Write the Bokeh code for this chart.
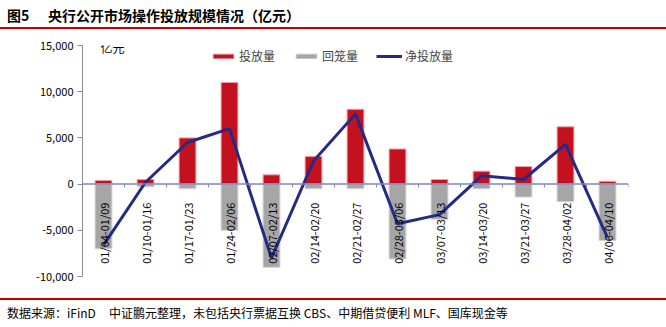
import numpy as np
from bokeh.plotting import figure
from bokeh.layouts import column
from bokeh.models import Range1d, Label, Legend, LegendItem, Span, NumeralTickFormatter, FixedTicker, Div
from bokeh.core.properties import value
from bokeh.embed import file_html
from bokeh.resources import INLINE

categories = ["01/04-01/09", "01/10-01/16", "01/17-01/23", "01/24-02/06", "02/07-02/13",
              "02/14-02/20", "02/21-02/27", "02/28-03/06", "03/07-03/13", "03/14-03/20",
              "03/21-03/27", "03/28-04/02", "04/06-04/10"]
injection = [400, 500, 5000, 11000, 1000, 3000, 8100, 3800, 500, 1400, 1900, 6200, 300]
withdrawal = [-7000, -300, -500, -5000, -9000, -500, -500, -8100, -3800, -500, -1400, -1900, -6100]
net = [-6600, 200, 4500, 6000, -8000, 2500, 7600, -4300, -3300, 900, 500, 4300, -5800]
y_ticks = [-10000, -5000, 0, 5000, 10000, 15000]

FIG_NO = "图5"
TITLE = "央行公开市场操作投放规模情况（亿元）"
SRC_A = "数据来源：iFinD"
SRC_B = "中证鹏元整理，未包括央行票据互换 CBS、中期借贷便利 MLF、国库现金等"
CJK = "Noto Sans CJK SC"
RED = "#C3111F"
GRAY = "#A6A6A6"
BLUE = "#252A84"
DARKRED = "#C00000"

W = 666
n = len(categories)
xs = np.arange(n) + 0.5

# ---- title strip (HTML)
title_html = (
    f'<div style="position:relative;width:{W}px;height:30px;font-family:\'{CJK}\';color:black;">'
    f'<span style="position:absolute;left:7px;top:7px;font-size:14px;line-height:16px;font-weight:bold;white-space:nowrap;">{FIG_NO}</span>'
    f'<span style="position:absolute;left:48px;top:7px;font-size:14px;line-height:16px;font-weight:bold;white-space:nowrap;">{TITLE}</span>'
    f'<div style="position:absolute;left:0;top:27px;width:{W}px;height:2px;background:{DARKRED};"></div>'
    '</div>'
)
t = Div(text=title_html, width=W, height=30, margin=0)

# ---- main chart
p = figure(width=W, height=268, x_range=Range1d(0, n), y_range=Range1d(-10000, 15000),
           output_backend="svg", toolbar_location=None,
           min_border_left=82, min_border_right=38, min_border_top=15, min_border_bottom=22,
           x_axis_location=None, outline_line_color=None, margin=0)
p.xgrid.visible = False
p.ygrid.visible = False
p.yaxis.ticker = FixedTicker(ticks=y_ticks)
p.yaxis.formatter = NumeralTickFormatter(format="0,0")
p.yaxis.major_label_text_font = CJK
p.yaxis.major_label_text_font_size = "11px"
p.yaxis.major_label_text_color = "black"
p.yaxis.axis_line_color = "#8C8C8C"
p.yaxis.major_tick_line_color = "#8C8C8C"
p.yaxis.major_tick_out = 5
p.yaxis.major_tick_in = 0
p.yaxis.minor_tick_line_color = None
p.yaxis.major_label_standoff = 4

r_inj = p.vbar(x=xs, top=injection, bottom=0, width=0.4, fill_color=RED, line_color="#E7A3A9", line_width=1)
r_wd = p.vbar(x=xs, top=0, bottom=withdrawal, width=0.4, fill_color=GRAY, line_color="#D2D2D2", line_width=1)

# zero axis line with category-boundary ticks
p.add_layout(Span(location=0, dimension="width", line_color="#7F86BC", line_width=1.5))
bounds = np.arange(n + 1)
p.segment(x0=bounds, y0=np.zeros(n + 1), x1=bounds, y1=np.full(n + 1, -350), line_color="#7F86BC", line_width=1)

r_net = p.line(x=xs, y=net, line_color=BLUE, line_width=3)

p.text(x=xs, y=np.full(n, -2000), text=categories, angle=np.pi / 2, text_align="right",
       text_baseline="middle", text_font=value(CJK), text_font_size="11px", text_color="black")

p.add_layout(Label(x=18, y=221, x_units="screen", y_units="screen", text="亿元",
                   text_font=CJK, text_font_size="12px", text_color="black"))

legend = Legend(items=[LegendItem(label="投放量", renderers=[r_inj]),
                       LegendItem(label="回笼量", renderers=[r_wd]),
                       LegendItem(label="净投放量", renderers=[r_net])],
                orientation="horizontal", location=(128, 212),
                label_text_font=CJK, label_text_font_size="12px",
                glyph_width=26, glyph_height=6, label_standoff=3, spacing=18,
                padding=0, margin=0, border_line_color=None, background_fill_alpha=0)
p.add_layout(legend, "center")

# ---- footer strip (HTML)
footer_html = (
    f'<div style="position:relative;width:{W}px;height:29px;font-family:\'{CJK}\';color:black;">'
    f'<div style="position:absolute;left:0;top:0px;width:{W}px;height:2px;background:{DARKRED};"></div>'
    f'<span style="position:absolute;left:7px;top:7px;font-size:12px;line-height:16px;white-space:nowrap;">{SRC_A}</span>'
    f'<span style="position:absolute;left:109px;top:7px;font-size:12px;line-height:16px;white-space:nowrap;">{SRC_B}</span>'
    '</div>'
)
f = Div(text=footer_html, width=W, height=29, margin=0)

layout = column(t, p, f, spacing=0)
open("out.html", "w").write(file_html(layout, INLINE))
